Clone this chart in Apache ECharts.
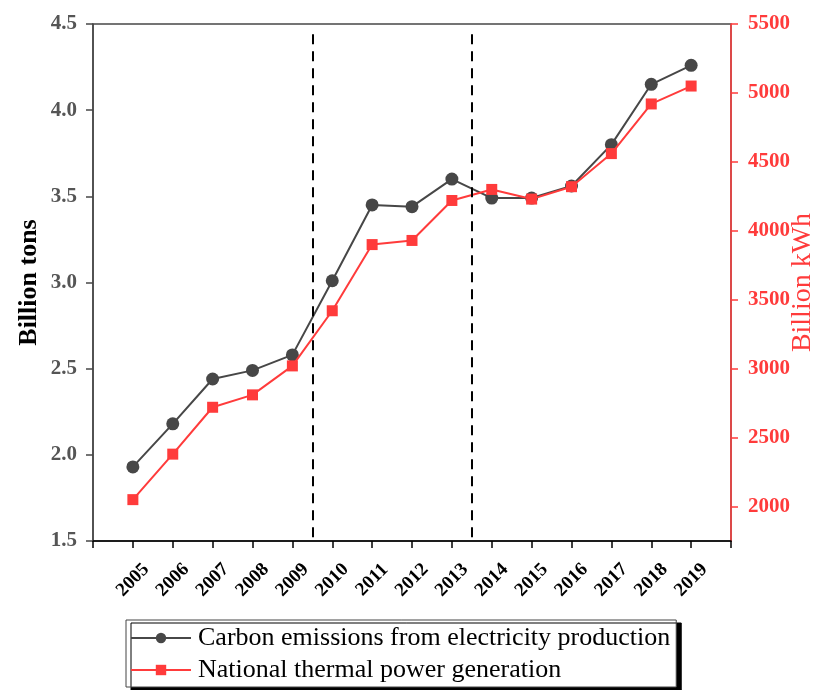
<!DOCTYPE html>
<html>
<head>
<meta charset="utf-8">
<script src="https://cdn.jsdelivr.net/npm/echarts@6/dist/echarts.min.js"></script>
<style>
  html, body { margin: 0; padding: 0; background: #fff; }
  #chart { width: 829px; height: 690px; }
</style>
</head>
<body>
<div id="chart"></div>
<script>
// Years on the horizontal axis
const years = [2005, 2006, 2007, 2008, 2009, 2010, 2011, 2012, 2013, 2014, 2015, 2016, 2017, 2018, 2019];
// Carbon emissions from electricity production (billion tons)
const carbonEmissions = [1.93, 2.18, 2.44, 2.49, 2.58, 3.01, 3.45, 3.44, 3.60, 3.49, 3.49, 3.56, 3.80, 4.15, 4.26];
// National thermal power generation (billion kWh)
const thermalPower = [2050, 2380, 2720, 2810, 3020, 3420, 3900, 3930, 4220, 4300, 4230, 4320, 4560, 4920, 5050];
// Period boundaries drawn as dashed vertical lines, with their vertical extent (billion tons)
const periodBreaks = [2009.5, 2013.5];
const breakSpan = [1.5, 4.44];
// Tick values on the right axis
const rightTicks = [2000, 2500, 3000, 3500, 4000, 4500, 5000, 5500];

const seriesNames = ['Carbon emissions from electricity production', 'National thermal power generation'];

const SERIF = '"Liberation Serif", "DejaVu Serif", serif';
const GRAY = '#474747';
const RED = '#ff3b3b';

const chart = echarts.init(document.getElementById('chart'), null, { renderer: 'canvas' });

chart.setOption({
  animation: false,
  backgroundColor: '#fff',
  grid: {
    left: 93, right: 98, top: 24, bottom: 149,
    outerBoundsMode: 'none',
    containLabel: false,
    show: true, borderColor: GRAY, borderWidth: 1.5, backgroundColor: 'transparent'
  },
  legend: {
    orient: 'vertical',
    left: 126, top: 620,
    padding: [5, 6, 4, 4],
    itemGap: 6,
    itemWidth: 60,
    itemHeight: 13,
    backgroundColor: '#fff',
    borderColor: '#444',
    borderWidth: 1,
    shadowColor: '#000',
    shadowBlur: 0,
    shadowOffsetX: 5,
    shadowOffsetY: 3,
    textStyle: { fontFamily: SERIF, fontSize: 26, color: '#000', padding: [0, 0, 0, 2] },
    data: seriesNames
  },
  xAxis: {
    type: 'value',
    min: 2004, max: 2020, interval: 1,
    splitLine: { show: false },
    axisLine: { onZero: false, lineStyle: { color: '#000', width: 1.5 } },
    axisTick: { inside: false, length: 7, lineStyle: { color: '#000', width: 1.5 } },
    axisLabel: {
      rotate: 45, margin: 39, align: 'center', verticalAlign: 'middle',
      fontFamily: SERIF, fontWeight: 'bold', fontSize: 19, color: '#000',
      formatter: v => (v >= years[0] && v <= years[years.length - 1]) ? String(v) : ''
    }
  },
  yAxis: [
    {
      type: 'value',
      min: 1.5, max: 4.5, interval: 0.5,
      name: 'Billion tons',
      nameLocation: 'middle', nameRotate: 90, nameGap: 51,
      nameMoveOverlap: false,
      nameTextStyle: { fontFamily: SERIF, fontWeight: 'bold', fontSize: 26, color: '#000' },
      splitLine: { show: false },
      axisLine: { show: true, lineStyle: { color: GRAY, width: 1.5 } },
      axisTick: { show: true, length: 7, lineStyle: { color: GRAY, width: 1.5 } },
      axisLabel: {
        margin: 16,
        fontFamily: SERIF, fontWeight: 'bold', fontSize: 21, color: '#555',
        formatter: v => v.toFixed(1)
      }
    },
    {
      type: 'value',
      position: 'right',
      min: 1750, max: 5500,
      name: 'Billion kWh',
      nameLocation: 'middle', nameRotate: 90, nameGap: 58,
      nameMoveOverlap: false,
      nameTextStyle: { fontFamily: SERIF, fontSize: 28, color: RED },
      splitLine: { show: false },
      axisLine: { show: true, lineStyle: { color: RED, width: 1.5 } },
      axisTick: { show: true, length: 7, customValues: rightTicks, lineStyle: { color: RED, width: 1.5 } },
      axisLabel: {
        margin: 17, customValues: rightTicks,
        fontFamily: SERIF, fontWeight: 'bold', fontSize: 21, color: RED,
        formatter: v => String(v)
      }
    }
  ],
  series: [
    {
      name: seriesNames[0],
      type: 'line',
      yAxisIndex: 0,
      data: years.map((y, i) => [y, carbonEmissions[i]]),
      symbol: 'circle', symbolSize: 13,
      itemStyle: { color: GRAY },
      lineStyle: { color: GRAY, width: 2 },
      z: 3,
      markLine: {
        silent: true,
        symbol: ['none', 'none'],
        label: { show: false },
        lineStyle: { color: '#000', type: [10, 7], width: 2 },
        data: periodBreaks.map(x => [{ coord: [x, breakSpan[1]] }, { coord: [x, breakSpan[0]] }])
      }
    },
    {
      name: seriesNames[1],
      type: 'line',
      yAxisIndex: 1,
      data: years.map((y, i) => [y, thermalPower[i]]),
      symbol: 'rect', symbolSize: 11,
      itemStyle: { color: RED },
      lineStyle: { color: RED, width: 2 },
      z: 4
    }
  ]
});
</script>
</body>
</html>
